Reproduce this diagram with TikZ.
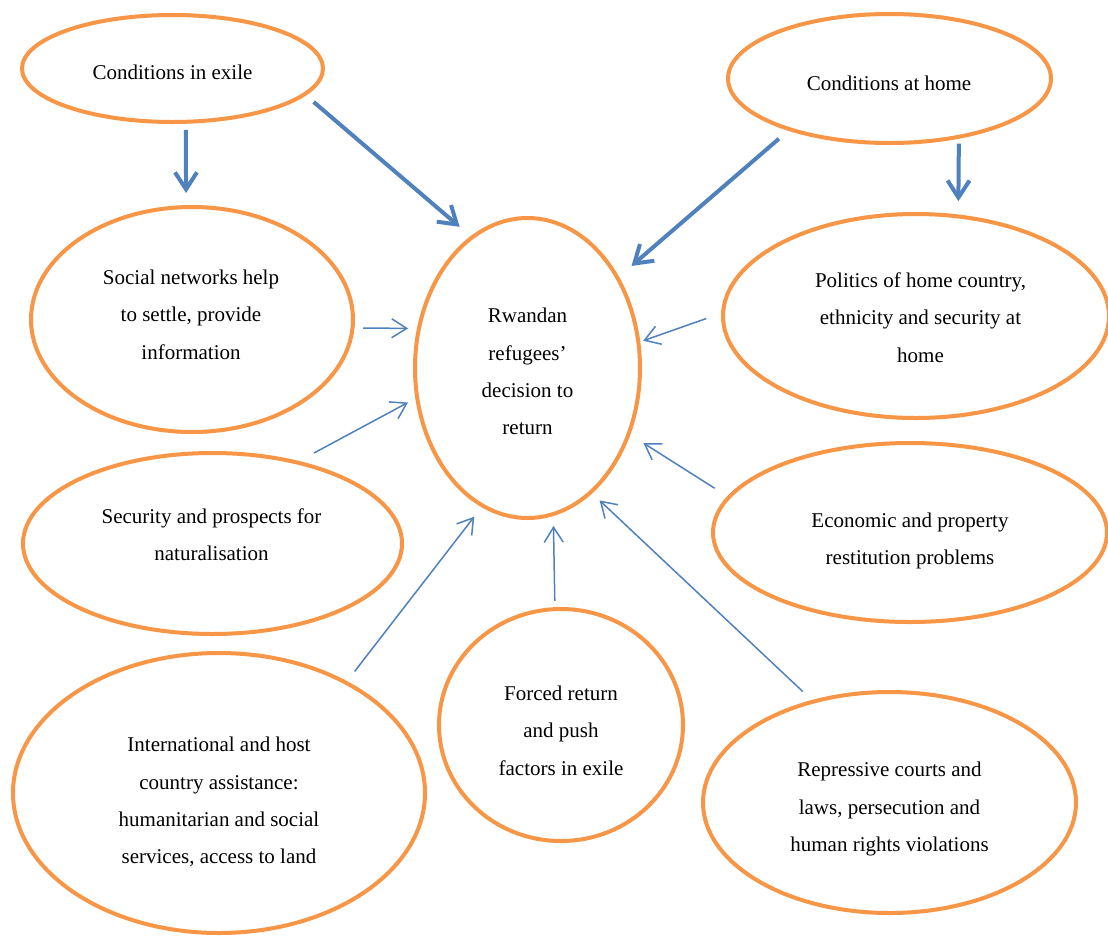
\documentclass[tikz,border=0pt]{standalone}
\usepackage{fontspec}
\setmainfont{Liberation Serif}
\usetikzlibrary{arrows.meta,shapes.geometric}
\definecolor{ora}{HTML}{F79646}
\definecolor{blu}{HTML}{4F81BD}
\begin{document}
\begin{tikzpicture}[x=1pt,y=-1pt,
  oval/.style={ellipse,draw=ora,line width=4pt,inner sep=0pt,outer sep=0pt},
  lbl/.style={align=center,font=\fontsize{21}{37.3}\selectfont,text height=14.5pt,text depth=5pt,inner sep=0pt},
  bigarrow/.style={draw=blu,line width=4pt,-{Straight Barb[length=17pt,width=22pt]}},
  smallarrow/.style={draw=blu,line width=1.5pt,-{Straight Barb[length=15pt,width=19pt]}}]
\clip (0,0) rectangle (1108,935);
\fill[white] (0,0) rectangle (1108,935);

% ellipses
\node[oval,minimum width=301pt,minimum height=107pt] (exile) at (172.5,68.5) {};
\node[oval,minimum width=323pt,minimum height=129pt] (home) at (889.5,78.5) {};
\node[oval,minimum width=322pt,minimum height=225pt] (soc) at (192,319.5) {};
\node[oval,minimum width=225pt,minimum height=300pt] (rw) at (527.5,368) {};
\node[oval,minimum width=386pt,minimum height=204pt] (pol) at (916,316) {};
\node[oval,minimum width=379pt,minimum height=181pt] (sec) at (212.5,543.5) {};
\node[oval,minimum width=394pt,minimum height=179pt] (eco) at (910,532.5) {};
\node[oval,minimum width=412pt,minimum height=280pt] (intl) at (219,793) {};
\node[oval,minimum width=244pt,minimum height=232pt] (forc) at (561,725) {};
\node[oval,minimum width=373pt,minimum height=221pt] (rep) at (889.5,802.5) {};

% texts (y = position of the last line)
\node[lbl] (exilet) at (172.5,75) {Conditions in exile};
\node[lbl] (homet) at (889,86) {Conditions at home};
\node[lbl] (soct) at (191,354.3) {Social networks help\\to settle, provide\\information};
\node[lbl] (rwt) at (527.5,430) {Rwandan\\refugees’\\decision to\\return};
\node[lbl] (polt) at (920.5,357.3) {Politics of home country,\\ethnicity and security at\\home};
\node[lbl] (sect) at (211.5,556.2) {Security and prospects for\\naturalisation};
\node[lbl] (ecot) at (910,560.2) {Economic and property\\restitution problems};
\node[lbl] (intlt) at (219,859) {International and host\\country assistance:\\humanitarian and social\\services, access to land};
\node[lbl] (forct) at (561,770.3) {Forced return\\and push\\factors in exile};
\node[lbl] (rept) at (889.5,846.8) {Repressive courts and\\laws, persecution and\\human rights violations};

% thick connectors
\draw[bigarrow,shorten <=8.2pt,shorten >=14.1pt] (exile.-76.8) -- (soc.93.6);
\draw[bigarrow,shorten <=12pt,shorten >=16.4pt] (exile.-11.57) -- (rw.113.8);
\draw[bigarrow,shorten <=14.5pt,shorten >=18.5pt] (home.207.45) -- (rw.45.5);
\draw[bigarrow,shorten <=6.9pt,shorten >=15.3pt] (home.-40.96) -- (pol.67.65);

% thin connectors
\draw[smallarrow,shorten <=10.6pt,shorten >=10.9pt] (soc.-3.39) -- (rw.160.25);
\draw[smallarrow,shorten <=19.7pt,shorten >=10.5pt] (sec.44.37) -- (rw.195.28);
\draw[smallarrow,shorten <=17.9pt,shorten >=5.1pt] (pol.179.3) -- (rw.13.9);
\draw[smallarrow,shorten <=16.9pt,shorten >=17.5pt] (eco.169.71) -- (rw.-33.35);
\draw[smallarrow,shorten <=14.3pt,shorten >=14pt] (intl.41.2) -- (rw.-108.57);
\draw[smallarrow,shorten <=8.25pt,shorten >=11.9pt] (forc.93.95) -- (rw.-80.1);
\draw[smallarrow,shorten <=14.7pt,shorten >=12.2pt] (rep.127.77) -- (rw.-63.32);
\end{tikzpicture}
\end{document}
